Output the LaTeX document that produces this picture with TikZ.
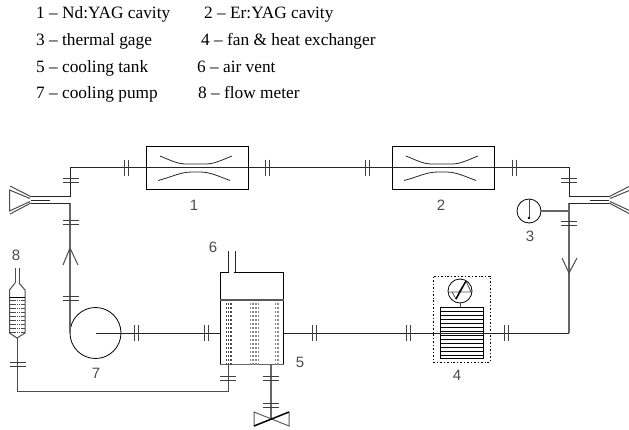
\documentclass[tikz,border=0pt]{standalone}
\usepackage{fontspec}
\setmainfont{Liberation Serif}
\newfontfamily\lab{Liberation Sans}
\begin{document}
\begin{tikzpicture}[x=1pt,y=-1pt,
  pipe/.style={line width=1pt,black!85},
  thin line/.style={line width=0.8pt,black!85},
  tick/.style={line width=0.8pt,black!75},
  legend/.style={anchor=base west,inner sep=0pt,font=\fontsize{17.3}{19}\selectfont},
  numlab/.style={inner sep=0pt,font=\lab\fontsize{15}{16}\selectfont,text=black!70},
  vhash/.pic={\draw[tick] (-2,-8)--(-2,8) (2,-8)--(2,8);},
  hhash/.pic={\draw[tick] (-8,-2)--(8,-2) (-8,2)--(8,2);},
  cavbox/.style={draw,line width=1pt,minimum width=102pt,minimum height=43pt,inner sep=0pt},
  gauge/.style={circle,draw,line width=0.8pt,minimum size=24pt,inner sep=0pt},
  ]
\useasboundingbox (0,0) rectangle (629,429);
% legend
\node[legend] (t1) at (36,18.5) {1 -- Nd:YAG cavity};
\node[legend] (t2) at (204,18.5) {2 -- Er:YAG cavity};
\node[legend] (t3) at (36,45) {3 -- thermal gage};
\node[legend] (t4) at (201,45) {4 -- fan \& heat exchanger};
\node[legend] (t5) at (36,72) {5 -- cooling tank};
\node[legend] (t6) at (197,72) {6 -- air vent};
\node[legend] (t7) at (36,98) {7 -- cooling pump};
\node[legend] (t8) at (198,98) {8 -- flow meter};
% components
\node[cavbox] (cav1) at (197,167.5) {};
\node[cavbox] (cav2) at (443,167.5) {};
\node[circle,draw,line width=0.8pt,minimum size=51pt,inner sep=0pt] (pump) at (95.5,333) {};
\node[gauge] (gage) at (529,211) {};
\node[gauge] (fan) at (460,291) {};
\node[draw,line width=1pt,minimum width=63pt,minimum height=92pt,inner sep=0pt] (tank) at (251.5,318) {};
\node[draw,line width=1pt,minimum width=43pt,minimum height=51pt,inner sep=0pt] (hx) at (461.5,332.5) {};
\node[draw,dash pattern=on 2pt off 2pt on 0.8pt off 2pt,line width=0.8pt,minimum width=57pt,minimum height=86pt,inner sep=0pt] (fanbox) at (461.5,319) {};
% named free ends
\coordinate (tl) at (70,167);
\coordinate (tr) at (569,167);
\coordinate (lu) at (70,196.7);
\coordinate (ll) at (70,203);
\coordinate (ru) at (569,196.7);
\coordinate (rl) at (569,203);
\coordinate (pl) at (70,333);
\coordinate (pc) at (95.5,333);
\coordinate (br) at (569,333);
\coordinate (tankr) at (283,333);
\coordinate (fm) at (17,338);
\coordinate (fb) at (17,391);
\coordinate (tb) at (228,391);
\coordinate (tbt) at (228,364);
\coordinate (vt) at (271,364);
\coordinate (vc) at (271,419);
% main pipes
\draw[pipe] (lu)--(tl)--(tr)--(ru);
\draw[black!60,line width=1.1pt] (ll)--(pl);
\draw[black!60,line width=1.1pt] (rl)--(br);
\draw[pipe] (pc)--(tank.west|-pc);
\draw[pipe] (tankr)--(br);
\draw[black!70,line width=1pt] (fm)--(fb)--(tb)--(tbt);
\draw[black!60,line width=1.1pt] (vt)--(vc);
\draw[black!60,line width=1.4pt] (gage.east)--(569,211);
% left nozzle
\draw[pipe] (lu)--(31,196.7) (ll)--(31,203);
\draw[pipe] (31,200.3)--(50,200.3);
\draw[black!70,line width=1pt] (31,196.7)--(10,186) (30,198.5)--(9.5,190)--(9.5,211)--(30,201.5) (31,203)--(10,214);
% right nozzle
\draw[pipe] (ru)--(609,196.7) (rl)--(609,203);
\draw[pipe] (590,200.3)--(609,200.3);
\draw[black!70,line width=1pt] (609,196.7)--(630,186) (610,198.5)--(630.5,190) (610,201.5)--(630.5,211) (609,203)--(630,214);
% cavities interior
\foreach \d in {0,246}{
  \draw[thin line] (160+\d,156) .. controls (172+\d,161) and (178+\d,164) .. (186+\d,164) -- (206+\d,164) .. controls (214+\d,164) and (222+\d,160) .. (232+\d,156);
  \draw[thin line] (158+\d,180.5) .. controls (172+\d,177) and (180+\d,172) .. (192+\d,172) -- (200+\d,172) .. controls (210+\d,172) and (218+\d,176) .. (230+\d,180.5);
}
% hashes
\foreach \x in {126,267,367,514} \pic at (\x,167.5) {vhash};
\foreach \x/\y in {70.5/180,70.5/222,70.5/298,569/180,569/223,17.5/364,228/378,271/378,271/405} \pic at (\x,\y) {hhash};
\foreach \x in {136,206,314,408,506.5} \pic at (\x,333) {vhash};
% arrows
\draw[black!70,line width=1pt] (63,265)--(70,248)--(78,265);
\draw[black!70,line width=1pt] (562,258)--(569,273)--(577,258);
% tank interior
\draw[line width=1.1pt,black!65] (tank.west|-0,300)--(tank.east|-0,300);
\draw[line width=1.4pt,black!60] (tank.south west)--(tank.south east);
\draw[draw=white,line width=1.5pt] (228.6,272)--(234.4,272);
\draw[pipe] (228,272)--(228,251) (235,272)--(235,251);
\foreach \y in {304,308,...,364} {
  \draw[line width=1.1pt,black!70,dash pattern=on 1pt off 0.8pt] (226,\y)--(233,\y);
  \draw[line width=1.1pt,black!45,dash pattern=on 1pt off 0.5pt] (250,\y)--(259,\y);
  \draw[line width=1.1pt,black!45,dash pattern=on 1pt off 0.5pt] (275,\y)--(279,\y);
}
% valve
\draw[line width=1pt,black!65] (289,412)--(289,426)--(254,412)--(254,426);
\draw[line width=1.5pt] (254,426)--(289,412);
% gage interior
\draw[line width=1pt,black!70] (gage.north)--(529,218);
\fill (529,218) circle (1.3pt);
% heat exchanger
\foreach \y in {311,315,...,355} \draw[pipe,black] (440,\y)--(483,\y);
\draw[black!70,line width=1pt] (fan.south)--(hx.north-|fan.south);
\draw[line width=0.8pt,black!70] (448,292)--(472,292) (452,292)--(456,299)--(459,292) (459,292)--(466,281)--(471,292);
\draw[line width=1.4pt] (456,299)--(466,281);
% numbers
\node[numlab] (n1) at (194,205) {1};
\node[numlab] (n2) at (441,205) {2};
\node[numlab] (n3) at (530,236) {3};
\node[numlab] (n4) at (457,375) {4};
\node[numlab] (n5) at (300,362) {5};
\node[numlab] (n6) at (213,247) {6};
\node[numlab] (n7) at (96,373) {7};
\node[numlab] (n8) at (16,255) {8};
% flow meter
\draw[line width=1pt,black!70] (15,268)--(15,283) (19,268)--(19,283);
\draw[line width=1pt,black!70] (15,283)--(9.5,290)--(9.5,333)--(17,338)--(25,333)--(25,290)--(19,283);
\draw[line width=1pt] (9.5,297)--(25,297);
\foreach \y in {300,304,...,332} \draw[line width=0.9pt,black!70,dash pattern=on 1.5pt off 0.7pt] (10,\y)--(24.5,\y);
\end{tikzpicture}
\end{document}
